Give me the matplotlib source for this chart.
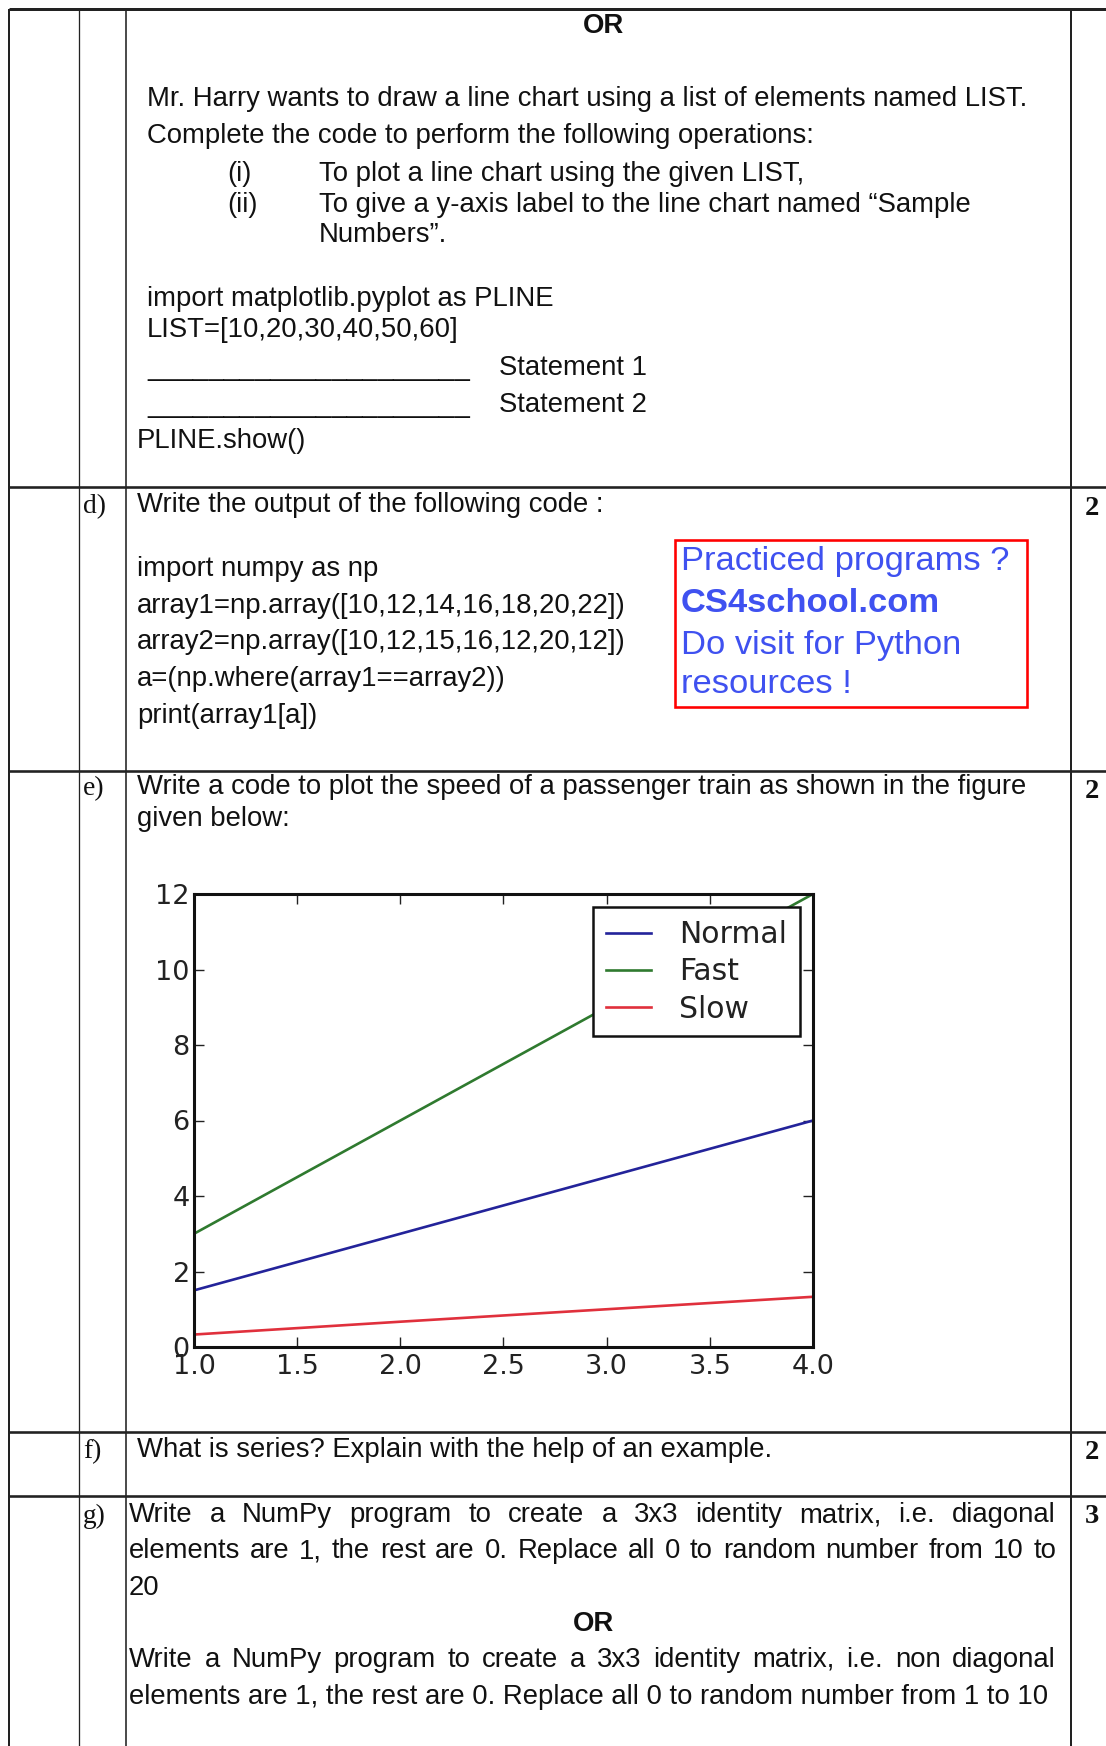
import matplotlib
matplotlib.use("Agg")
import matplotlib.pyplot as plt

# ---------------- data ----------------
speed_x = [1, 2, 3, 4]
normal_speed = [1.5, 3.0, 4.5, 6.0]
fast_speed = [3.0, 6.0, 9.0, 12.0]
slow_speed = [0.33, 0.67, 1.0, 1.33]
series_labels = ["Normal", "Fast", "Slow"]
x_ticks = [1.0, 1.5, 2.0, 2.5, 3.0, 3.5, 4.0]
y_ticks = [0, 2, 4, 6, 8, 10, 12]

top_lines = [
    "Mr. Harry wants to draw a line chart using a list of elements named LIST.",
    "Complete the code to perform the following operations:",
]
items = [("(i)", "To plot a line chart using the given LIST,"),
         ("(ii)", "To give a y-axis label to the line chart named \u201cSample"),
         ("", "Numbers\u201d.")]
code_c = ["import matplotlib.pyplot as PLINE", "LIST=[10,20,30,40,50,60]"]
code_d = ["import numpy as np",
          "array1=np.array([10,12,14,16,18,20,22])",
          "array2=np.array([10,12,15,16,12,20,12])",
          "a=(np.where(array1==array2))",
          "print(array1[a])"]
ad_lines = ["Practiced programs ?", "CS4school.com", "Do visit for Python", "resources !"]
g_lines = ["Write a NumPy program to create a 3x3 identity matrix, i.e. diagonal",
           "elements are 1, the rest are 0. Replace all 0 to random number from 10 to",
           "20",
           "Write a NumPy program to create a 3x3 identity matrix, i.e. non diagonal",
           "elements are 1, the rest are 0. Replace all 0 to random number from 1 to 10"]

# ---------------- figure ----------------
W, H = 1106, 1746
fig = plt.figure(figsize=(W / 100, H / 100), dpi=100)
fig.patch.set_facecolor("white")
bg = fig.add_axes([0, 0, 1, 1])
bg.set_xlim(0, W)
bg.set_ylim(H, 0)
bg.axis("off")

SANS = "Liberation Sans"
SERIF = "Liberation Serif"
FS = 19.8
INK = "#111111"

def txt(x, y, s, fs=FS, family=SANS, weight="normal", color=INK, ha="left", va="baseline"):
    return bg.text(x, y, s, fontsize=fs, family=family, fontweight=weight, color=color, ha=ha, va=va)

# grid lines of the table
LC = "#222222"
for x, lw in [(9, 2.0), (79, 1.3), (126, 1.6), (1071, 2.0)]:
    bg.plot([x, x], [9, H], color=LC, lw=lw * 0.72, solid_capstyle="butt")
for y, lw in [(9, 3.0), (487, 2.6), (771, 2.6), (1432, 2.6), (1496, 2.6)]:
    bg.plot([9, W], [y, y], color=LC, lw=lw * 0.72, solid_capstyle="butt")

# ---------- section c (OR part) ----------
txt(603, 33, "OR", weight="bold", ha="center")
txt(147, 106, top_lines[0])
txt(147, 143, top_lines[1])
for (lab, s), y in zip(items, [181, 212, 242]):
    if lab:
        txt(227, y, lab)
    txt(319, y, s)
txt(147, 306, code_c[0])
txt(147, 337, code_c[1])
txt(147, 375, "_" * 21)
txt(499, 375, "Statement 1")
txt(147, 412, "_" * 21)
txt(499, 412, "Statement 2")
txt(137, 448, "PLINE.show()")

# ---------- section d ----------
txt(83, 513, "d)", family=SERIF)
txt(1085, 515, "2", family=SERIF, weight="bold", fs=20.5)
txt(137, 512, "Write the output of the following code :")
for s, y in zip(code_d, [576, 613, 649, 686, 723]):
    txt(137, y, s)
bg.add_patch(plt.Rectangle((675, 540), 352, 167, fill=False, edgecolor="#FF0000", lw=2.6 * 0.72))
BLUE = "#3F51F0"
for s, y, w in zip(ad_lines, [570, 612, 654, 693], ["normal", "bold", "normal", "normal"]):
    txt(681, y, s, fs=24.8, weight=w, color=BLUE)

# ---------- section e ----------
txt(83, 795, "e)", family=SERIF)
txt(1085, 798, "2", family=SERIF, weight="bold", fs=20.5)
txt(137, 794, "Write a code to plot the speed of a passenger train as shown in the figure")
txt(137, 826, "given below:")

L, R, T, B = 194, 813, 894, 1347
ax = fig.add_axes([L / W, (H - B) / H, (R - L) / W, (B - T) / H])
ax.plot(speed_x, normal_speed, color="#23239a", lw=1.9, label=series_labels[0])
ax.plot(speed_x, fast_speed, color="#2f7a2f", lw=1.9, label=series_labels[1])
ax.plot(speed_x, slow_speed, color="#e0303c", lw=1.9, label=series_labels[2])
ax.set_xlim(1, 4)
ax.set_ylim(0, 12)
ax.set_xticks(x_ticks)
ax.set_xticklabels([f"{v:.1f}" for v in x_ticks])
ax.set_yticks(y_ticks)
ax.set_yticklabels([str(v) for v in y_ticks])
ax.tick_params(direction="in", length=7, width=1, top=True, right=True,
               labelsize=19.5, colors="#222222")
ax.tick_params(axis="y", pad=3)
ax.tick_params(axis="x", pad=5)
for lab in ax.get_xticklabels() + ax.get_yticklabels():
    lab.set_family("DejaVu Sans")
for sp in ax.spines.values():
    sp.set_linewidth(2.2)
    sp.set_color("#111111")
leg = ax.legend(loc="upper right", fancybox=False, framealpha=1, edgecolor="#111111",
                prop={"family": "DejaVu Sans", "size": 21.5}, handlelength=1.5,
                handletextpad=0.95, labelspacing=0.28, borderpad=0.42, borderaxespad=0.45)
leg.get_frame().set_linewidth(1.8)
for t in leg.get_texts():
    t.set_color("#222222")

# ---------- section f ----------
txt(83, 1458, "f)", family=SERIF)
txt(1085, 1459, "2", family=SERIF, weight="bold", fs=20.5)
txt(137, 1457, "What is series? Explain with the help of an example.")

# ---------- section g ----------
txt(83, 1523, "g)", family=SERIF)
txt(1085, 1523, "3", family=SERIF, weight="bold", fs=20.5)

renderer = fig.canvas.get_renderer()

def justified(s, x0, x1, y):
    words = s.split()
    objs, widths = [], []
    for w in words:
        t = txt(x0, y, w)
        widths.append(t.get_window_extent(renderer).width)
        objs.append(t)
    gap = (x1 - x0 - sum(widths)) / (len(words) - 1)
    x = x0
    for t, wd in zip(objs, widths):
        t.set_x(x)
        x += wd + gap

GX0, GX1 = 129, 1056
justified(g_lines[0], GX0, GX1, 1522)
justified(g_lines[1], GX0, GX1, 1558)
txt(GX0, 1595, g_lines[2])
txt(594, 1631, "OR", weight="bold", ha="center")
justified(g_lines[3], GX0, GX1, 1667)
txt(GX0, 1704, g_lines[4])

fig.savefig("out.png", dpi=100)
